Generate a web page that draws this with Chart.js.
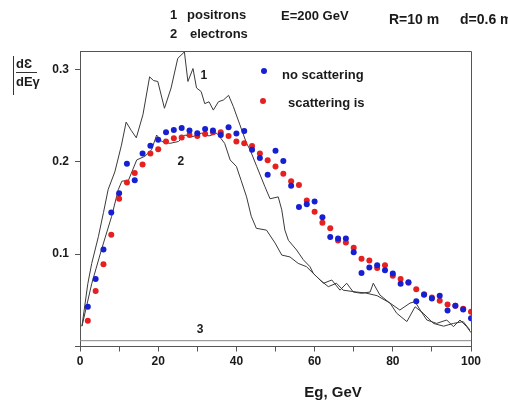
<!DOCTYPE html>
<html>
<head>
<meta charset="utf-8">
<script src="https://cdn.jsdelivr.net/npm/chart.js@4/dist/chart.umd.min.js"></script>
<style>
  html, body { margin: 0; padding: 0; background: #fff; }
  canvas { display: block; }
</style>
</head>
<body>
<canvas id="chart" width="508" height="404"></canvas>
<script>
// photon energy grid for the dot series (GeV)
const energies = [2, 4, 6, 8, 10, 12, 14, 16, 18, 20, 22, 24, 26, 28, 30, 32, 34, 36, 38, 40,
  42, 44, 46, 48, 50, 52, 54, 56, 58, 60, 62, 64, 66, 68, 70, 72, 74, 76, 78, 80,
  82, 84, 86, 88, 90, 92, 94, 96, 98, 100];

const noScattering = [0.043, 0.073, 0.105, 0.145, 0.166, 0.198, 0.180, 0.209, 0.2175, 0.224,
  0.232, 0.2345, 0.2367, 0.234, 0.231, 0.2356, 0.234, 0.229, 0.2375, 0.2306,
  0.2335, 0.213, 0.204, 0.186, 0.212, 0.201, 0.174, 0.151, 0.154, 0.157,
  0.140, 0.1186, 0.117, 0.117, 0.102, 0.0796, 0.0856, 0.088, 0.0825, 0.079,
  0.068, 0.0695, 0.049, 0.056, 0.052, 0.055, 0.039, 0.044, 0.040, 0.0305];

const scatteringIs = [0.028, 0.060, 0.089, 0.121, 0.160, 0.1775, 0.188, 0.197, 0.209, 0.2136,
  0.222, 0.2256, 0.2262, 0.229, 0.228, 0.230, 0.232, 0.232, 0.228, 0.222,
  0.220, 0.217, 0.209, 0.2017, 0.195, 0.187, 0.179, 0.175, 0.158, 0.146,
  0.134, 0.128, 0.1147, 0.1125, 0.107, 0.095, 0.093, 0.085, 0.088, 0.0765,
  0.073, 0.069, 0.062, 0.0565, 0.053, 0.0496, 0.0455, 0.044, 0.041, 0.0375];

// curve 1 (positrons)
const positronX = [0.5, 2, 3, 4.7, 6, 7.2, 8.9, 10.6, 11.8, 13.1, 14.4, 16.1, 17.8, 18.8, 19.9,
  21.6, 23.3, 25, 26.7, 27.6, 28.9, 29.8, 31, 31.9, 33, 34.1, 35.4, 36.7, 38, 39.2,
  40.9, 42.6, 43.5, 45.2, 47.3, 48.6, 50.7, 51.6, 52.4, 53.3, 55.4, 57.1, 58.8, 59.7,
  62.3, 64.4, 66.5, 68.2, 69.9, 72, 74.2, 75, 76.7, 78.8, 81.8, 84.4, 85.7, 87, 88.7,
  91.2, 93.8, 95.5, 97.2, 98.9, 100];
const positronY = [0.022, 0.068, 0.090, 0.119, 0.145, 0.170, 0.189, 0.218, 0.243, 0.234, 0.226, 0.251, 0.292, 0.288, 0.287,
  0.258, 0.280, 0.312, 0.319, 0.287, 0.301, 0.280, 0.276, 0.263, 0.265, 0.256, 0.265, 0.267, 0.272, 0.260,
  0.240, 0.220, 0.213, 0.195, 0.173, 0.160, 0.162, 0.148, 0.126, 0.115, 0.1045, 0.094, 0.0865, 0.079,
  0.0685, 0.072, 0.061, 0.0685, 0.059, 0.0576, 0.059, 0.0685, 0.0558, 0.0485, 0.0395, 0.047, 0.0485, 0.0395, 0.0287,
  0.025, 0.0287, 0.0215, 0.0287, 0.0215, 0.015];

// curve 2 (electrons)
const electronX = [0.5, 3, 5.5, 8.1, 9.8, 10.7, 12.4, 14.5, 16.6, 18.3, 19.6, 20.9, 23, 25.2, 26.8,
  28.6, 31.1, 33, 35, 37, 38.4, 40, 41.2, 42.6, 43.8, 45.1, 47.7, 49.9, 51.6, 53.7,
  55.8, 57.9, 61.4, 63.5, 65.6, 67.3, 70.7, 73, 76, 79.3, 81, 83.6, 85.7, 87.8, 90.4,
  93, 95.5, 98, 99.7];
const electronY = [0.022, 0.068, 0.105, 0.141, 0.170, 0.179, 0.180, 0.202, 0.206, 0.213, 0.229, 0.222, 0.220, 0.222, 0.229,
  0.227, 0.231, 0.228, 0.231, 0.220, 0.202, 0.195, 0.180, 0.162, 0.141, 0.128, 0.126, 0.112, 0.099, 0.097,
  0.090, 0.0865, 0.072, 0.0648, 0.0685, 0.061, 0.059, 0.058, 0.055, 0.047, 0.036, 0.027, 0.043, 0.036, 0.025,
  0.022, 0.025, 0.027, 0.018];

// curve 3
const line3X = [0, 100];
const line3Y = [0.0063, 0.0063];

const yTickValues = [0.1, 0.2, 0.3];

const FONT = "'Liberation Sans', Arial, sans-serif";
const BLUE = 'rgb(22, 32, 210)';
const RED = 'rgb(228, 32, 32)';
const INK = '#1a1a1a';

function toPoints(xs, ys) {
  return xs.map((x, i) => ({ x: x, y: ys[i] }));
}

const decorations = {
  id: 'decorations',
  afterDraw(chart) {
    const ctx = chart.ctx;
    const a = chart.chartArea;
    const xs = chart.scales.x;
    const ys = chart.scales.y;
    ctx.save();

    // top and right frame
    ctx.strokeStyle = '#555';
    ctx.lineWidth = 1;
    ctx.beginPath();
    ctx.moveTo(a.left, a.top + 0.5);
    ctx.lineTo(a.right + 0.5, a.top + 0.5);
    ctx.lineTo(a.right + 0.5, a.bottom);
    ctx.stroke();

    ctx.fillStyle = INK;
    ctx.textBaseline = 'middle';

    // header
    ctx.font = 'bold 13px ' + FONT;
    ctx.textAlign = 'left';
    ctx.fillText('1', 170, 15);
    ctx.fillText('positrons', 187, 15);
    ctx.fillText('2', 170, 34);
    ctx.fillText('electrons', 190, 34);
    ctx.fillText('E=200 GeV', 281, 16);
    ctx.font = 'bold 14px ' + FONT;
    ctx.fillText('R=10 m', 389, 20);
    ctx.fillText('d=0.6 mm', 460, 20);

    // y axis label: dƐ / dEγ
    ctx.font = 'bold 13px ' + FONT;
    ctx.fillText('d\u0190', 16, 64);
    ctx.fillText('dE\u03b3', 16, 82);
    ctx.beginPath();
    ctx.moveTo(16, 72.5);
    ctx.lineTo(37, 72.5);
    ctx.moveTo(13.5, 56);
    ctx.lineTo(13.5, 95);
    ctx.strokeStyle = '#333';
    ctx.stroke();

    // x axis title
    ctx.font = 'bold 15px ' + FONT;
    ctx.textAlign = 'center';
    ctx.fillText('Eg, GeV', 333, 393);

    // curve numbers
    ctx.font = 'bold 12px ' + FONT;
    ctx.fillText('1', xs.getPixelForValue(31.7), ys.getPixelForValue(0.293));
    ctx.fillText('2', xs.getPixelForValue(25.8), ys.getPixelForValue(0.200));
    ctx.fillText('3', xs.getPixelForValue(30.7), ys.getPixelForValue(0.018));

    // legend
    ctx.textAlign = 'left';
    ctx.font = 'bold 13px ' + FONT;
    ctx.fillStyle = BLUE;
    ctx.beginPath();
    ctx.arc(264, 71, 3, 0, Math.PI * 2);
    ctx.fill();
    ctx.fillStyle = RED;
    ctx.beginPath();
    ctx.arc(263, 101, 3, 0, Math.PI * 2);
    ctx.fill();
    ctx.fillStyle = INK;
    ctx.fillText('no scattering', 282, 75);
    ctx.fillText('scattering is', 288, 103);

    ctx.restore();
  }
};

new Chart(document.getElementById('chart'), {
  type: 'scatter',
  data: {
    datasets: [
      {
        label: 'no scattering',
        data: toPoints(energies, noScattering),
        backgroundColor: BLUE,
        borderWidth: 0,
        pointRadius: 3
      },
      {
        label: 'scattering is',
        data: toPoints(energies, scatteringIs),
        backgroundColor: RED,
        borderWidth: 0,
        pointRadius: 3
      },
      {
        label: 'positrons',
        data: toPoints(positronX, positronY),
        showLine: true,
        borderColor: '#3a3a3a',
        borderWidth: 1,
        pointRadius: 0
      },
      {
        label: 'electrons',
        data: toPoints(electronX, electronY),
        showLine: true,
        borderColor: '#3a3a3a',
        borderWidth: 1,
        pointRadius: 0
      },
      {
        label: '3',
        data: toPoints(line3X, line3Y),
        showLine: true,
        borderColor: '#888',
        borderWidth: 1,
        pointRadius: 0
      }
    ]
  },
  options: {
    responsive: false,
    animation: false,
    layout: { padding: { top: 51, right: 37, left: 0, bottom: 0 } },
    plugins: {
      legend: { display: false },
      tooltip: { enabled: false }
    },
    scales: {
      x: {
        type: 'linear',
        min: 0,
        max: 100,
        afterFit: (s) => { s.height = 57.5; },
        ticks: {
          stepSize: 10,
          padding: 3,
          color: INK,
          font: { family: FONT, size: 12, weight: 'bold' },
          maxRotation: 0,
          callback: (v) => (v % 20 === 0 ? v : '')
        },
        grid: { drawOnChartArea: false, drawTicks: true, tickLength: 5, color: '#555' },
        border: { color: '#555', width: 1 }
      },
      y: {
        min: 0,
        max: 0.32,
        afterFit: (s) => { s.width = 80; },
        ticks: {
          stepSize: 0.1,
          includeBounds: false,
          padding: 6,
          color: INK,
          font: { family: FONT, size: 12, weight: 'bold' },
          callback: (v) => (yTickValues.some(t => Math.abs(t - v) < 1e-9) ? v.toFixed(1) : '')
        },
        grid: { drawOnChartArea: false, drawTicks: true, tickLength: 5, color: '#555' },
        border: { color: '#555', width: 1 }
      }
    }
  },
  plugins: [decorations]
});
</script>
</body>
</html>
